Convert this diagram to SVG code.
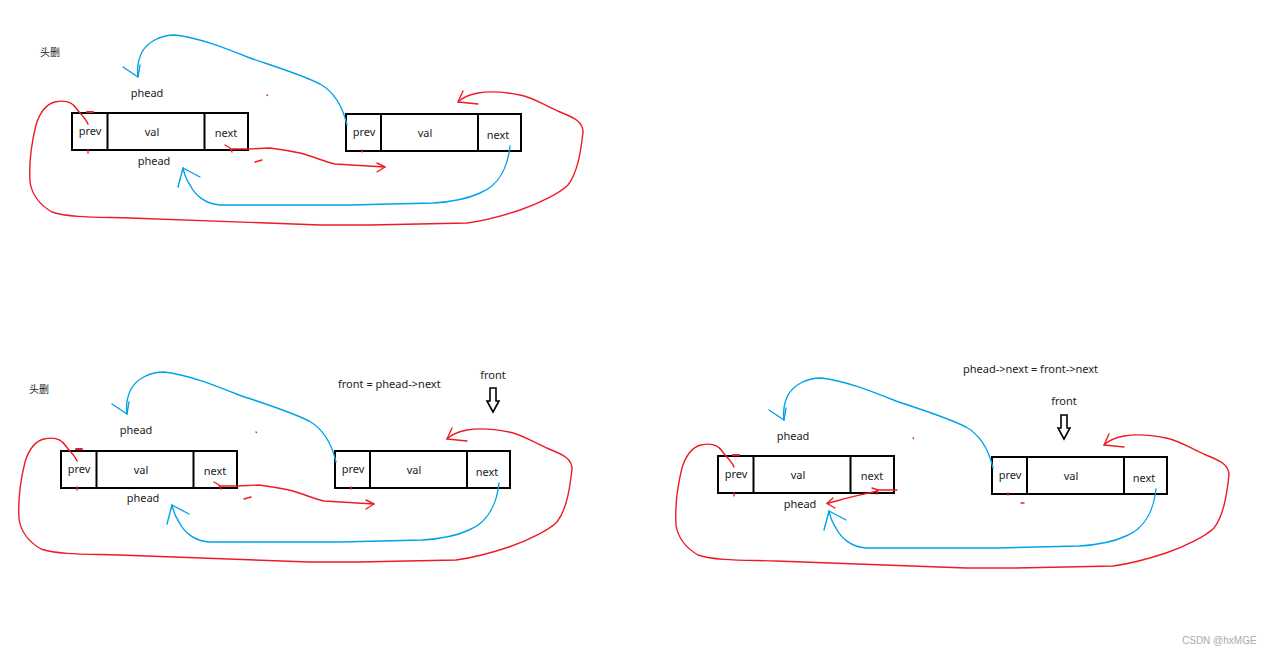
<svg xmlns="http://www.w3.org/2000/svg" xmlns:xlink="http://www.w3.org/1999/xlink" width="1270" height="654" viewBox="0 0 1270 654">
<style>
.t{font-family:"Noto Sans","Open Sans",sans-serif;font-size:11px;fill:#222;text-anchor:middle}
.tl{font-family:"Noto Sans","Open Sans",sans-serif;font-size:11px;fill:#222}
.cjk{font-family:"Noto Sans CJK SC",sans-serif;font-size:10px;fill:#222}
.box{fill:#fff;stroke:#000;stroke-width:2}
.div{stroke:#000;stroke-width:2}
.r{fill:none;stroke:#ED1C24;stroke-width:1.4;stroke-linecap:round;stroke-linejoin:round}
.b{fill:none;stroke:#00A2E8;stroke-width:1.4;stroke-linecap:round;stroke-linejoin:round}
.hol{fill:#fff;stroke:#000;stroke-width:1.6;stroke-linejoin:miter}
.wm{font-family:"Liberation Sans",Arial,sans-serif;font-size:10px;fill:#aaa}
</style>
<defs>
<g id="blueTop"><path d="M347,125 C343,108 336,93 320,84 C300,74 270,65 250,58 C225,48 200,38 175,35 C160,35 148,42 142,52 C137,62 137,70 138,77"/><path d="M123,67 L138,77 L140,65"/></g>
<g id="blueBot"><path d="M510,146 C508,165 500,185 480,193 C465,200 450,202 433,203 L350,205 L220,205 C205,204 195,195 190,185 C185,178 184,172 183,168"/><path d="M178,187 L183,168 L200,177"/></g>
<g id="redLoop"><path d="M88,124 C86,118 80,114 76,108 C72,102 64,100 55,102 C47,104 40,112 36,125 C31,145 29,165 30,182 C32,195 40,205 52,212 C70,218 100,217 130,218 L320,225 L370,225 L467,223 C490,220 505,215 520,210 C540,203 560,193 568,185 C578,172 581,150 583,132 C583,122 575,118 560,112 C545,106 535,98 520,95 C505,92 490,91 478,93 C468,95 462,98 458,102"/><path d="M463,91 L458,102 L478,104"/></g>
<g id="redNext"><path d="M225,145 L230,148 L232,152"/><path d="M230,149 L248,149 L270,148 C285,150 295,152 300,153 C315,157 325,162 335,164 L385,167"/><path d="M377,163 L385,167 L377,172"/></g>
<g id="marks"><path d="M87,112 L93,112" stroke-width="2"/><path d="M88,150 L88,153"/><path d="M362,150 L362,152"/><path d="M267,95 L267.5,95.5"/></g>
<path id="hollow" d="M-3,0 L3,0 L3,13 L6,13 L0,24 L-6,13 L-3,13 Z"/>
</defs>

<!-- Panel 1 -->
<g id="panel1">
<g id="p1-title"><text class="cjk" x="40" y="56">头删</text></g>
<g id="p1-phead-top"><text class="t" x="147" y="97">phead</text></g>
<g id="p1-phead-bot"><text class="t" x="154" y="165">phead</text></g>
<g id="p1-node1">
<rect class="box" x="72" y="113" width="176" height="37"/>
<line class="div" x1="107.5" y1="113" x2="107.5" y2="150"/>
<line class="div" x1="204.5" y1="113" x2="204.5" y2="150"/>
<text class="t" x="90" y="135">prev</text><text class="t" x="152" y="136">val</text><text class="t" x="226" y="137">next</text>
</g>
<g id="p1-node2">
<rect class="box" x="346" y="114" width="175" height="37"/>
<line class="div" x1="381" y1="114" x2="381" y2="151"/>
<line class="div" x1="478" y1="114" x2="478" y2="151"/>
<text class="t" x="364" y="136">prev</text><text class="t" x="425" y="137">val</text><text class="t" x="498" y="139">next</text>
</g>
<g id="p1-connectors">
<use xlink:href="#blueTop" class="b"/><use xlink:href="#blueBot" class="b"/>
<use xlink:href="#redLoop" class="r"/><use xlink:href="#redNext" class="r"/>
<use xlink:href="#marks" class="r"/><path class="r" d="M255,162 L262,160"/>
</g>
</g>

<!-- Panel 2 -->
<g id="panel2" transform="translate(-11,337)">
<g id="p2-title"><text class="cjk" x="40" y="56">头删</text></g>
<g id="p2-phead-top"><text class="t" x="147" y="97">phead</text></g>
<g id="p2-phead-bot"><text class="t" x="154" y="165">phead</text></g>
<g id="p2-node1">
<rect class="box" x="72" y="114" width="176" height="37"/>
<line class="div" x1="107.5" y1="114" x2="107.5" y2="151"/>
<line class="div" x1="204.5" y1="114" x2="204.5" y2="151"/>
<text class="t" x="90" y="136">prev</text><text class="t" x="152" y="137">val</text><text class="t" x="226" y="138">next</text>
</g>
<g id="p2-node2">
<rect class="box" x="346" y="114" width="175" height="37"/>
<line class="div" x1="381" y1="114" x2="381" y2="151"/>
<line class="div" x1="478" y1="114" x2="478" y2="151"/>
<text class="t" x="364" y="136">prev</text><text class="t" x="425" y="137">val</text><text class="t" x="498" y="139">next</text>
</g>
<g id="p2-assign"><text class="tl" x="349" y="51">front = phead-&gt;next</text></g>
<g id="p2-front"><text class="t" x="504" y="42">front</text><use xlink:href="#hollow" class="hol" x="504" y="51"/></g>
<g id="p2-connectors">
<use xlink:href="#blueTop" class="b"/><use xlink:href="#blueBot" class="b"/>
<use xlink:href="#redLoop" class="r"/><use xlink:href="#redNext" class="r"/>
<use xlink:href="#marks" class="r"/><path class="r" d="M255,162 L262,160"/>
</g>
</g>

<!-- Panel 3 -->
<g id="panel3" transform="translate(646,343)">
<g id="p3-phead-top"><text class="t" x="147" y="97">phead</text></g>
<g id="p3-phead-bot"><text class="t" x="154" y="165">phead</text></g>
<g id="p3-node1">
<rect class="box" x="72" y="113" width="176" height="37"/>
<line class="div" x1="107.5" y1="113" x2="107.5" y2="150"/>
<line class="div" x1="204.5" y1="113" x2="204.5" y2="150"/>
<text class="t" x="90" y="135">prev</text><text class="t" x="152" y="136">val</text><text class="t" x="226" y="137">next</text>
</g>
<g id="p3-node2">
<rect class="box" x="346" y="114" width="175" height="37"/>
<line class="div" x1="381" y1="114" x2="381" y2="151"/>
<line class="div" x1="478" y1="114" x2="478" y2="151"/>
<text class="t" x="364" y="136">prev</text><text class="t" x="425" y="137">val</text><text class="t" x="498" y="139">next</text>
</g>
<g id="p3-assign"><text class="tl" x="317" y="30">phead-&gt;next = front-&gt;next</text></g>
<g id="p3-front"><text class="t" x="418" y="62">front</text><use xlink:href="#hollow" class="hol" x="418" y="72"/></g>
<g id="p3-connectors">
<use xlink:href="#blueTop" class="b"/><use xlink:href="#blueBot" class="b"/>
<use xlink:href="#redLoop" class="r"/>
<use xlink:href="#marks" class="r"/><path class="r" d="M375,160 L378,160"/>
<path class="r" d="M251,147 L231,147"/><path class="r" d="M226,145 L232,147 L231,151"/>
<path class="r" d="M231,148 C219,151 204,154 194,157 L181,160.5"/><path class="r" d="M187,155 L181,160.5 L189,165"/>
</g>
</g>

<g id="watermark"><text class="wm" x="1182" y="644">CSDN @hxMGE</text></g>
</svg>
